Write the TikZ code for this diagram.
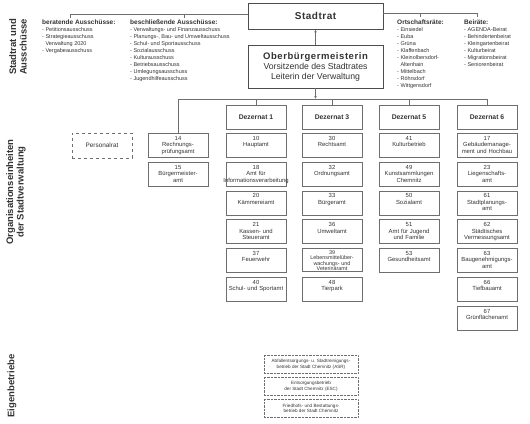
\documentclass[tikz,border=0pt]{standalone}
\usepackage{fontspec}
\setmainfont{Liberation Sans}
\usetikzlibrary{positioning,arrows.meta}
\definecolor{orgline}{HTML}{6E6E6E}
\definecolor{orgtext}{HTML}{333333}

\begin{document}
\begin{tikzpicture}[x=1pt,y=-1pt,>={Latex[length=3pt,width=2.6pt]},
  every node/.style={text=orgtext,font=\fontsize{5.9}{6.5}\selectfont},
  head/.style={draw=orgline!70!black,line width=0.7pt,minimum width=135pt,align=center},
  dez/.style={draw=orgline,line width=0.5pt,minimum width=60pt,minimum height=24pt,anchor=north,
    font=\fontsize{6.8}{8}\selectfont\bfseries},
  amt/.style={draw=orgline,line width=0.5pt,text width=58pt,inner sep=1pt,text height=6pt,
    text depth=16pt,align=center,anchor=north},
  eig/.style={draw=orgline,densely dotted,line width=0.4pt,minimum width=94pt,minimum height=18pt,
    inner sep=0.5pt,align=center,anchor=north,font=\fontsize{4.6}{5.6}\selectfont},
  liste/.style={align=left,anchor=north west,inner sep=0pt,font=\fontsize{5.5}{7}\selectfont},
  bereich/.style={rotate=90,align=center,font=\fontsize{9.5}{10.5}\selectfont\bfseries},
  verb/.style={draw=orgline,line width=0.5pt}]
  \useasboundingbox (0,0) rectangle (530,423);

  % Bereiche links
  \node[bereich] (labrat) at (18,47) {Stadtrat und\\Ausschüsse};
  \node[bereich] (laborg) at (16,192) {Organisationseinheiten\\der Stadtverwaltung};
  \node[bereich] (labeig) at (12,386) {Eigenbetriebe};

  % Stadtrat und Oberbuergermeisterin
  \node[head,minimum height=26pt] (stadtrat) at (315.5,16)
    {\fontsize{10}{12}\selectfont\bfseries\addfontfeature{LetterSpace=5}Stadtrat};
  \node[head,minimum height=43pt,font=\fontsize{8.7}{10}\selectfont] (obm) at (315.5,66.5)
    {{\fontsize{9.5}{10}\selectfont\bfseries\addfontfeature{LetterSpace=6}Oberbürgermeisterin}\\
     Vorsitzende des Stadtrates\\Leiterin der Verwaltung};
  \draw[verb,->] (obm) -- (stadtrat);

  % Ausschuesse, Ortschaftsraete, Beiraete
  \node[liste] (berat) at (42,20) {{\bfseries\fontsize{6.5}{7}\selectfont beratende Ausschüsse:}\\
    - Petitionsausschuss\\- Strategieausschuss\\\phantom{- }Verwaltung 2020\\- Vergabeausschuss};
  \node[liste] (beschl) at (130,20) {{\bfseries\fontsize{6.5}{7}\selectfont beschließende Ausschüsse:}\\
    - Verwaltungs- und Finanzausschuss\\- Planungs-, Bau- und Umweltausschuss\\
    - Schul- und Sportausschuss\\- Sozialausschuss\\- Kulturausschuss\\
    - Betriebsausschuss\\- Umlegungsausschuss\\- Jugendhilfeausschuss};
  \node[liste] (orts) at (397,20) {{\bfseries\fontsize{6.5}{7}\selectfont Ortschaftsräte:}\\
    - Einsiedel\\- Euba\\- Grüna\\- Klaffenbach\\- Kleinolbersdorf-\\\phantom{- }Altenhain\\
    - Mittelbach\\- Röhrsdorf\\- Wittgensdorf};
  \node[liste] (beir) at (464,20) {{\bfseries\fontsize{6.5}{7}\selectfont Beiräte:}\\
    - AGENDA-Beirat\\- Behindertenbeirat\\- Kleingartenbeirat\\- Kulturbeirat\\
    - Migrationsbeirat\\- Seniorenbeirat};
  \coordinate (berat-t) at (70,18);
  \coordinate (beschl-t) at (184,18);
  \coordinate (orts-t) at (420,17);
  \coordinate (beir-t) at (477,17);
  \draw[verb] ([yshift=2pt]stadtrat.west) -| (berat-t);
  \draw[verb] (beschl-t) -- ++(0,-4);
  \draw[verb] ([yshift=3pt]stadtrat.east) -| (beir-t);
  \draw[verb] (orts-t) -- ++(0,-4);

  % Dezernate
  \node[dez] (d1) at (256,105) {Dezernat 1};
  \node[dez] (d3) at (332,105) {Dezernat 3};
  \node[dez] (d5) at (409,105) {Dezernat 5};
  \node[dez] (d6) at (487,105) {Dezernat 6};

  % Personalrat und Aemter der OB
  \node[draw=orgline,dashed,line width=0.6pt,minimum width=60pt,minimum height=25pt,
    font=\fontsize{6.4}{7}\selectfont] (prat) at (102,145.5) {Personalrat};
  \node[amt] (a14) at (178,133) {14\\Rechnungs-\\prüfungsamt};
  \node[amt] (a15) at (178,161.8) {15\\Bürgermeister-\\amt};

  % Dezernat 1
  \node[amt] (a10) at (256,133) {10\\Hauptamt};
  \node[amt] (a18) at (256,161.8) {18\\Amt für\\\makebox[56pt]{Informationsverarbeitung}};
  \node[amt] (a20) at (256,190.6) {20\\Kämmereiamt};
  \node[amt] (a21) at (256,219.4) {21\\Kassen- und\\Steueramt};
  \node[amt] (a37) at (256,248.2) {37\\Feuerwehr};
  \node[amt] (a40) at (256,277) {40\\Schul- und Sportamt};

  % Dezernat 3
  \node[amt] (a30) at (332,133) {30\\Rechtsamt};
  \node[amt] (a32) at (332,161.8) {32\\Ordnungsamt};
  \node[amt] (a33) at (332,190.6) {33\\Bürgeramt};
  \node[amt] (a36) at (332,219.4) {36\\Umweltamt};
  \node[amt,text height=5pt,font=\fontsize{5.4}{5.4}\selectfont] (a39) at (332,248.2)
    {39\\Lebensmittelüber-\\wachungs- und\\Veterinäramt};
  \node[amt] (a48) at (332,277) {48\\Tierpark};

  % Dezernat 5
  \node[amt] (a41) at (409,133) {41\\Kulturbetrieb};
  \node[amt] (a49) at (409,161.8) {49\\Kunstsammlungen\\Chemnitz};
  \node[amt] (a50) at (409,190.6) {50\\Sozialamt};
  \node[amt] (a51) at (409,219.4) {51\\Amt für Jugend\\und Familie};
  \node[amt] (a53) at (409,248.2) {53\\Gesundheitsamt};

  % Dezernat 6
  \node[amt] (a17) at (487,133) {17\\Gebäudemanage-\\ment und Hochbau};
  \node[amt] (a23) at (487,161.8) {23\\Liegenschafts-\\amt};
  \node[amt] (a61) at (487,190.6) {61\\Stadtplanungs-\\amt};
  \node[amt] (a62) at (487,219.4) {62\\Städtisches\\Vermessungsamt};
  \node[amt] (a63) at (487,248.2) {63\\Baugenehmigungs-\\amt};
  \node[amt] (a66) at (487,277) {66\\Tiefbauamt};
  \node[amt] (a67) at (487,305.8) {67\\Grünflächenamt};

  % Verteiler unter der OB
  \coordinate (vert) at (315.5,99);
  \draw[verb,->] (obm) -- (vert);
  \draw[verb] (a14.north) |- (d6.north |- vert) -- (d6.north);
  \foreach \d in {d1,d3,d5}
    \draw[verb] (\d.north) -- (\d.north |- vert);

  % Eigenbetriebe
  \node[eig] (asr) at (311,355) {Abfallentsorgungs- u. Stadtreinigungs-\\betrieb der Stadt Chemnitz (ASR)};
  \node[eig] (esc) at (311,377) {Entsorgungsbetrieb\\der Stadt Chemnitz (ESC)};
  \node[eig] (fbb) at (311,399) {Friedhofs- und Bestattungs-\\betrieb der Stadt Chemnitz};
\end{tikzpicture}
\end{document}
